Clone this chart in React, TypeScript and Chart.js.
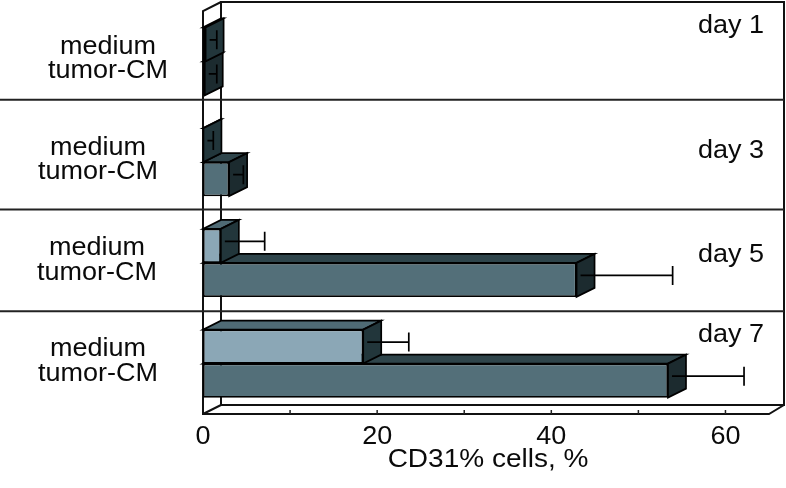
import React, { useEffect, useRef } from 'react';
import { Chart, registerables } from 'chart.js';

Chart.register(...registerables);

// ---- data ----
const categories = ['day 1', 'day 3', 'day 5', 'day 7'];
const seriesNames = ['medium', 'tumor-CM'];
const mediumValues = [0.3, 0.05, 2.05, 18.4];
const mediumSD = [0.25, 0.1, 4.0, 4.2];
const tumorValues = [0.2, 3.0, 42.9, 53.4];
const tumorSD = [0.35, 0.6, 10.0, 7.7];
const xTickLabels = [0, 20, 40, 60];
const xTickMarks = [10, 20, 30, 40, 50, 60];
const axisTitle = 'CD31% cells, %';
// separators between day groups, in category units
const separatorAt = [0.38, 1.47, 2.48];

// ---- style ----
const FONT = '"Liberation Sans", Arial, Helvetica, sans-serif';
const FONT_SIZE = 25;
const STRETCH = 1.08;
const DX = 18;
const DY = -9;
const DX_RIGHT = 15;
const frontColors = ['#8ba7b6', '#536f79'];
const topColors = ['#4f6b75', '#2f454b'];
const sideColors = ['#22363b', '#1c2b2f'];
const labelCenterX = [108, 98, 97, 98];
const dayLabelOffset = [-28, -4, -1, -22];

function drawText(ctx: CanvasRenderingContext2D, text: string, x: number, y: number, align: CanvasTextAlign, stretch = STRETCH) {
  ctx.save();
  ctx.translate(x, y);
  ctx.scale(stretch, 1);
  ctx.font = `${FONT_SIZE}px ${FONT}`;
  ctx.fillStyle = '#0a0a0a';
  ctx.textAlign = align;
  ctx.textBaseline = 'alphabetic';
  ctx.fillText(text, 0, 0);
  ctx.restore();
}

const box3dPlugin = {
  id: 'box3d',
  beforeDatasetsDraw(chart: any) {
    const ctx: CanvasRenderingContext2D = chart.ctx;
    const { left, right, top, bottom } = chart.chartArea;
    const yScale = chart.scales.y;
    ctx.save();
    ctx.strokeStyle = '#111';
    ctx.lineWidth = 2;
    ctx.lineJoin = 'miter';
    const backRight = right + DX_RIGHT;
    // back plane
    ctx.beginPath();
    ctx.moveTo(left + DX, bottom + DY);
    ctx.lineTo(left + DX, top + DY);
    ctx.lineTo(backRight, top + DY);
    ctx.lineTo(backRight, bottom + DY);
    ctx.lineTo(left + DX, bottom + DY);
    ctx.stroke();
    // front left + floor
    ctx.beginPath();
    ctx.moveTo(left + DX, top + DY);
    ctx.lineTo(left, top);
    ctx.lineTo(left, bottom);
    ctx.lineTo(right, bottom);
    ctx.lineTo(backRight, bottom + DY);
    ctx.stroke();
    ctx.beginPath();
    ctx.moveTo(left, bottom);
    ctx.lineTo(left + DX, bottom + DY);
    ctx.stroke();
    // separators
    ctx.strokeStyle = '#222';
    separatorAt.forEach((v) => {
      const y = yScale.getPixelForValue(v);
      ctx.beginPath();
      ctx.moveTo(0, y);
      ctx.lineTo(backRight, y);
      ctx.stroke();
    });
    // tick marks
    const xScale = chart.scales.x;
    ctx.lineWidth = 1.5;
    xTickMarks.forEach((v) => {
      const x = xScale.getPixelForValue(v);
      ctx.beginPath();
      ctx.moveTo(x, bottom);
      ctx.lineTo(x, bottom - 4);
      ctx.stroke();
    });
    ctx.restore();
  },
  afterDatasetDraw(chart: any, args: any) {
    const ctx: CanvasRenderingContext2D = chart.ctx;
    const di = args.index;
    const meta = args.meta;
    const xScale = chart.scales.x;
    const sds = di === 0 ? mediumSD : tumorSD;
    const vals = di === 0 ? mediumValues : tumorValues;
    ctx.save();
    ctx.strokeStyle = '#000';
    ctx.lineWidth = 1.7;
    ctx.lineJoin = 'miter';
    meta.data.forEach((el: any, i: number) => {
      const p = el.getProps(['x', 'y', 'base', 'height'], true);
      const L = Math.min(p.x, p.base);
      const R = Math.max(p.x, p.base);
      const T = p.y - p.height / 2;
      const B = p.y + p.height / 2;
      // top face
      ctx.beginPath();
      ctx.moveTo(L, T);
      ctx.lineTo(R, T);
      ctx.lineTo(R + DX, T + DY);
      ctx.lineTo(L + DX, T + DY);
      ctx.closePath();
      ctx.fillStyle = topColors[di];
      ctx.fill();
      ctx.stroke();
      // right face
      ctx.beginPath();
      ctx.moveTo(R, T);
      ctx.lineTo(R + DX, T + DY);
      ctx.lineTo(R + DX, B + DY);
      ctx.lineTo(R, B);
      ctx.closePath();
      ctx.fillStyle = sideColors[di];
      ctx.fill();
      ctx.stroke();
      // error bar at mid depth
      const ey = p.y + DY / 2;
      const capX = xScale.getPixelForValue(vals[i] + sds[i]) + DX / 2;
      ctx.beginPath();
      ctx.moveTo(R + 4, ey);
      ctx.lineTo(capX, ey);
      ctx.moveTo(capX, ey - 9.5);
      ctx.lineTo(capX, ey + 9.5);
      ctx.stroke();
    });
    ctx.restore();
  },
  afterDraw(chart: any) {
    const ctx: CanvasRenderingContext2D = chart.ctx;
    const { left, right, bottom } = chart.chartArea;
    const xScale = chart.scales.x;
    const yScale = chart.scales.y;
    // tick labels
    xTickLabels.forEach((v) => {
      drawText(ctx, String(v), xScale.getPixelForValue(v), bottom + 30, 'center');
    });
    // axis title
    drawText(ctx, axisTitle, (left + right) / 2 + 2, bottom + 53, 'center', 1.12);
    // group labels
    categories.forEach((c, i) => {
      const yc = yScale.getPixelForValue(i);
      drawText(ctx, seriesNames[0], labelCenterX[i], yc - 7.5, 'center');
      drawText(ctx, seriesNames[1], labelCenterX[i], yc + 17, 'center');
      drawText(ctx, c, right - 5, yc + dayLabelOffset[i], 'right');
    });
  },
};

export default function App() {
  const ref = useRef<HTMLCanvasElement | null>(null);
  useEffect(() => {
    if (!ref.current) return;
    const chart = new Chart(ref.current, {
      type: 'bar',
      data: {
        labels: categories,
        datasets: [
          {
            label: seriesNames[0],
            data: mediumValues,
            backgroundColor: frontColors[0],
            borderColor: '#000',
            borderWidth: 1.7,
            borderSkipped: false,
          },
          {
            label: seriesNames[1],
            data: tumorValues,
            backgroundColor: frontColors[1],
            borderColor: '#000',
            borderWidth: 1.7,
            borderSkipped: false,
          },
        ],
      },
      options: {
        indexAxis: 'y',
        responsive: false,
        animation: false,
        devicePixelRatio: 1,
        layout: { padding: { left: 203, right: 17, top: 11, bottom: 74 } },
        datasets: { bar: { categoryPercentage: 0.675, barPercentage: 1 } },
        scales: {
          x: { type: 'linear', min: 0, max: 65, display: false },
          y: { type: 'category', display: false },
        },
        plugins: { legend: { display: false }, tooltip: { enabled: false } },
      },
      plugins: [box3dPlugin],
    } as any);
    return () => chart.destroy();
  }, []);
  return (
    <div style={{ position: 'absolute', left: 0, top: 0, width: 786, height: 488, background: '#fff' }}>
      <canvas ref={ref} width={786} height={488} style={{ display: 'block' }} />
    </div>
  );
}
